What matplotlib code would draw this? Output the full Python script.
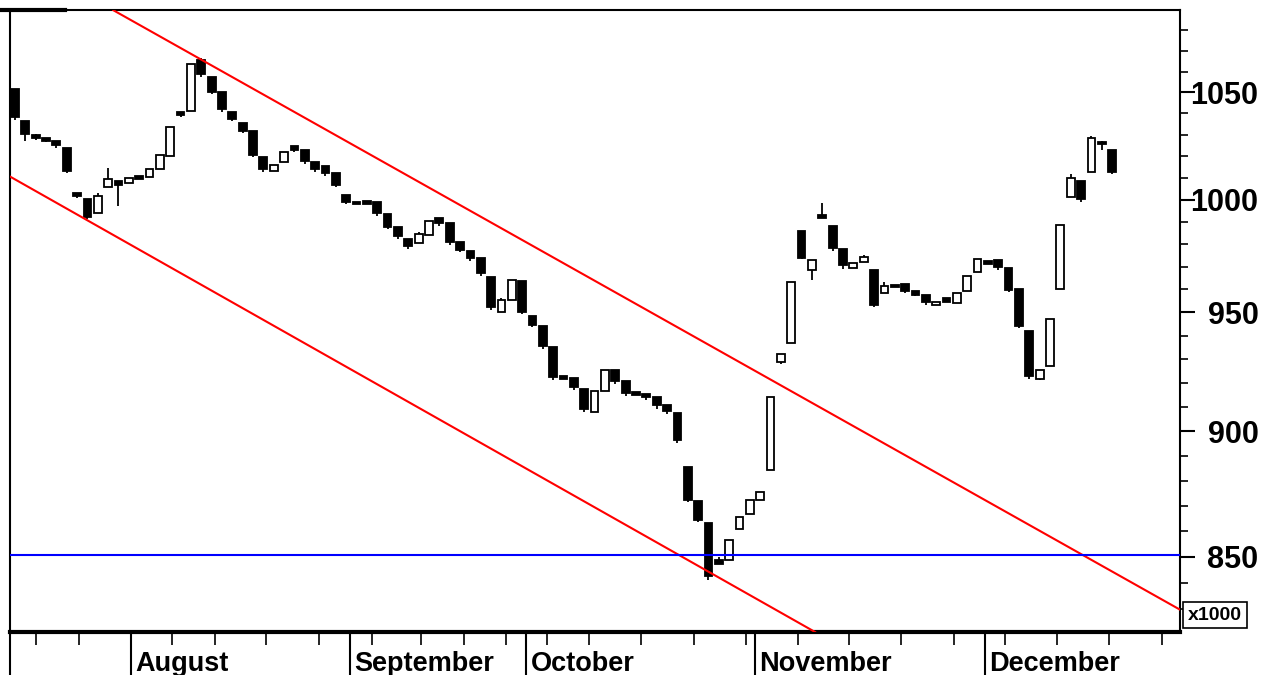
import numpy as np
import matplotlib
matplotlib.use('Agg')
import matplotlib.pyplot as plt
from matplotlib.lines import Line2D
from matplotlib.ticker import FixedLocator, FixedFormatter, NullFormatter

# daily candles (price x1000)
opens = [1051.8, 1036.2, 1029.7, 1028.3, 1026.8, 1023.6, 1002.9, 1000.2, 993.9, 1005.7,
         1008.5, 1007.6, 1010.7, 1010.2, 1014.0, 1020.0, 1040.8, 1041.1, 1065.4, 1057.2,
         1050.0, 1040.5, 1035.3, 1031.6, 1019.5, 1013.0, 1017.2, 1024.6, 1022.6, 1017.2,
         1015.4, 1012.3, 1002.0, 998.8, 999.3, 998.8, 993.4, 987.6, 982.2, 980.4,
         984.0, 991.7, 989.4, 980.8, 976.9, 973.8, 965.4, 950.3, 955.4, 963.6,
         948.5, 944.2, 935.3, 923.0, 922.2, 917.6, 908.0, 916.7, 925.6, 920.6,
         916.0, 915.2, 914.0, 910.7, 907.4, 885.4, 871.9, 863.3, 848.6, 848.6,
         861.0, 866.9, 872.3, 884.2, 928.9, 937.0, 985.8, 968.5, 992.9, 988.0,
         977.8, 969.3, 972.1, 968.5, 958.6, 961.9, 962.3, 959.4, 957.7, 953.0,
         956.3, 954.2, 959.4, 967.6, 972.5, 973.0, 969.3, 960.2, 942.0, 921.8,
         927.2, 960.0, 1001.1, 1008.5, 1012.6, 1026.4, 1022.8]
closes = [1038.5, 1030.2, 1028.3, 1027.0, 1025.0, 1013.0, 1001.5, 992.1, 1001.5, 1009.4,
          1006.6, 1009.8, 1009.4, 1014.0, 1020.4, 1033.5, 1039.2, 1063.5, 1058.6, 1050.0,
          1042.0, 1037.2, 1031.6, 1020.4, 1014.0, 1016.0, 1021.8, 1022.6, 1017.5, 1014.0,
          1012.3, 1006.6, 998.8, 997.9, 997.9, 993.9, 987.6, 983.5, 979.1, 984.4,
          990.3, 989.4, 980.8, 977.3, 973.8, 967.2, 952.4, 955.4, 964.1, 950.3,
          944.6, 935.7, 922.6, 921.8, 918.4, 909.0, 916.4, 925.2, 920.6, 915.6,
          914.8, 914.0, 910.7, 908.2, 896.2, 872.3, 864.5, 842.5, 847.4, 856.5,
          865.7, 872.3, 875.5, 913.9, 932.3, 963.2, 973.8, 973.0, 991.6, 978.2,
          970.5, 971.5, 974.2, 953.3, 961.5, 961.1, 959.4, 957.7, 954.6, 954.6,
          954.6, 958.6, 965.8, 973.4, 971.2, 969.8, 959.8, 944.2, 923.0, 925.6,
          947.2, 988.5, 1009.8, 1000.2, 1028.3, 1025.5, 1012.6]
highs = [1051.8, 1036.2, 1030.2, 1028.3, 1026.8, 1023.6, 1002.9, 1000.2, 1002.9, 1014.5,
         1008.5, 1009.8, 1010.7, 1014.0, 1020.4, 1033.5, 1040.8, 1063.5, 1066.5, 1057.2,
         1050.0, 1040.5, 1035.3, 1031.6, 1019.5, 1016.0, 1021.8, 1024.6, 1022.6, 1017.2,
         1015.4, 1012.3, 1002.0, 998.8, 999.3, 998.8, 993.4, 987.6, 982.2, 985.3,
         990.3, 991.7, 989.4, 980.8, 976.9, 973.8, 965.4, 956.3, 964.1, 963.6,
         948.5, 944.2, 935.3, 923.0, 922.2, 917.6, 916.4, 925.2, 925.6, 920.6,
         916.0, 915.2, 914.0, 910.7, 907.4, 885.4, 871.9, 863.3, 849.8, 856.5,
         865.7, 872.3, 875.5, 913.9, 932.3, 963.2, 985.8, 973.0, 998.4, 988.0,
         977.8, 971.5, 975.0, 968.5, 963.2, 961.9, 962.3, 959.4, 957.7, 954.6,
         956.3, 958.6, 965.8, 973.4, 972.5, 973.0, 969.3, 960.2, 942.0, 925.6,
         947.2, 988.5, 1011.6, 1008.5, 1029.5, 1027.0, 1022.8]
lows = [1037.0, 1027.0, 1027.5, 1026.5, 1023.6, 1012.0, 1000.6, 991.2, 993.9, 1005.7,
        997.1, 1007.6, 1009.4, 1010.2, 1014.0, 1020.0, 1038.5, 1041.1, 1057.2, 1049.0,
        1040.5, 1036.2, 1030.6, 1019.5, 1012.6, 1013.0, 1017.2, 1021.8, 1016.1, 1012.6,
        1010.8, 1005.7, 997.9, 997.9, 997.9, 992.5, 986.7, 982.2, 977.8, 980.4,
        984.0, 988.0, 979.5, 976.4, 972.5, 965.8, 951.1, 950.3, 955.4, 949.4,
        943.8, 934.4, 921.4, 921.8, 917.2, 908.0, 908.0, 916.7, 919.7, 914.4,
        914.8, 912.7, 909.3, 907.0, 895.0, 871.5, 863.7, 841.0, 847.4, 848.6,
        861.0, 866.9, 872.3, 884.2, 928.0, 937.0, 973.4, 964.1, 991.6, 976.9,
        968.9, 969.3, 972.1, 952.4, 958.6, 961.1, 958.6, 956.9, 953.3, 953.0,
        954.6, 954.2, 959.4, 967.6, 971.2, 968.5, 959.0, 943.4, 921.8, 921.0,
        927.2, 960.0, 1001.1, 998.8, 1012.6, 1022.8, 1011.7]

months = ['August', 'September', 'October', 'November', 'December']
month_pos = [11.2, 32.4, 49.4, 71.5, 93.7]
week_ticks = [2.0, 6.2, 15.2, 19.3, 24.3, 29.4, 34.5, 39.2, 43.4, 47.4, 51.4, 55.5,
              60.5, 65.6, 70.6, 75.7, 80.6, 85.6, 90.7, 95.7, 100.7, 105.7, 110.8]

y_major = [850, 900, 950, 1000, 1050]
y_minor = [830, 840, 860, 870, 880, 890, 910, 920, 930, 940, 960, 970, 980, 990,
           1010, 1020, 1030, 1040, 1060, 1070, 1080]

# channel lines (index, price) and support level
upper_x = [9.5, 112.6]
upper_y = [1090.0, 829.7]
lower_x = [-0.5, 77.3]
lower_y = [1010.6, 821.4]
support = 850.5

plt.rcParams['font.family'] = ['Liberation Sans', 'DejaVu Sans']

o = np.array(opens)
c = np.array(closes)
h = np.array(highs)
l = np.array(lows)
x = np.arange(len(o))

fig = plt.figure(figsize=(12.63, 6.75), dpi=100)
ax = fig.add_axes([10/1263, 1-632/675, 1170/1263, 622/675])
ax.set_yscale('log')

up = c >= o
face = np.where(up, 'white', 'black')
ax.vlines(x, l, h, color='black', lw=1.3, zorder=2)
ax.bar(x, np.abs(c-o), bottom=np.minimum(o, c), width=0.75, color=face,
       edgecolor='black', linewidth=1.3, zorder=3)

ax.plot(upper_x, upper_y, color='#ff0000', lw=1.5, zorder=4)
ax.plot(lower_x, lower_y, color='#ff0000', lw=1.5, zorder=4)
ax.axhline(support, color='#0000ff', lw=1.5, zorder=4)

ax.set_xlim(-0.48, 112.56)
ax.set_ylim(821.4, 1090.1)

# right price axis
ax.yaxis.tick_right()
ax.yaxis.set_major_locator(FixedLocator(y_major))
ax.yaxis.set_major_formatter(FixedFormatter([str(v) for v in y_major]))
ax.yaxis.set_minor_locator(FixedLocator(y_minor))
ax.yaxis.set_minor_formatter(NullFormatter())
ax.tick_params(axis='y', which='major', direction='out', length=11, width=1.5, pad=45.5)
ax.tick_params(axis='y', which='minor', direction='out', length=6, width=1.2)
for lab in ax.get_yticklabels():
    lab.set_horizontalalignment('right')
    lab.set_fontsize(22)
    lab.set_fontweight('bold')

# weekly ticks + month separators
ax.set_xticks(week_ticks)
ax.set_xticklabels([])
ax.tick_params(axis='x', direction='out', length=9, width=1.2)
for pos, name in zip(month_pos, months):
    ax.add_line(Line2D([pos, pos], [0, -0.08], transform=ax.get_xaxis_transform(),
                       color='black', lw=1.5, clip_on=False))
    ax.text(pos + 0.4, -0.052, name, transform=ax.get_xaxis_transform(),
            ha='left', va='center', fontsize=19.5, fontweight='bold')
ax.add_line(Line2D([0, 0], [0, -0.08], transform=ax.transAxes,
                   color='black', lw=1.5, clip_on=False))

for s in ['top', 'left', 'right']:
    ax.spines[s].set_linewidth(1.5)
ax.spines['bottom'].set_linewidth(3)

fig.add_artist(Line2D([0, 65/1263], [1-10/675, 1-10/675], color='black', lw=3))
fig.text(1215/1263, 1-615/675, 'x1000', ha='center', va='center', fontsize=14,
         fontweight='bold', bbox=dict(boxstyle='square,pad=0.25', fc='white', ec='black', lw=1.2))

fig.savefig('out.png', dpi=100)
